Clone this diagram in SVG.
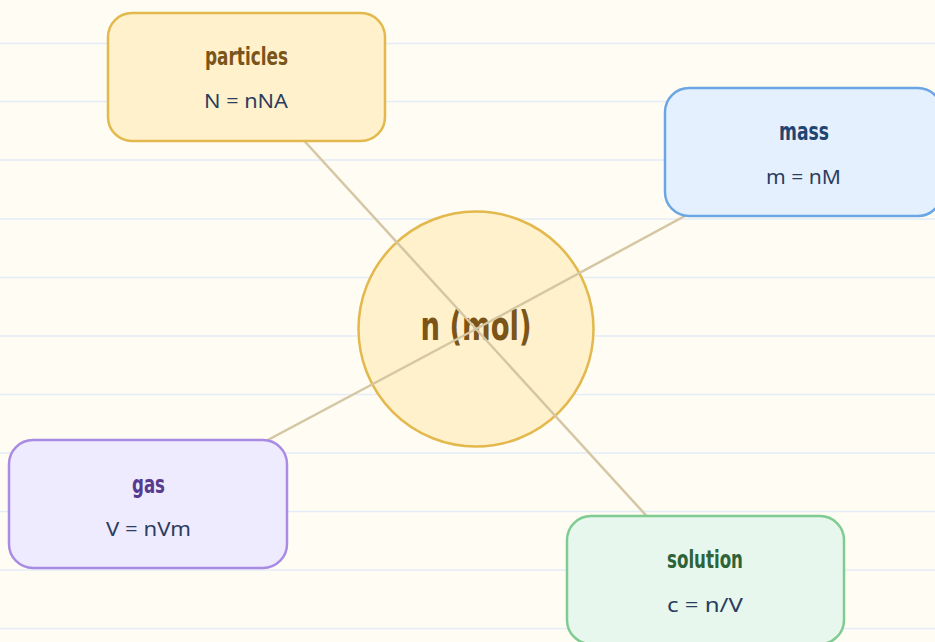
<svg xmlns="http://www.w3.org/2000/svg" width="935" height="642" viewBox="0 0 935 642">
<style>
.bg{fill:#FFFCF3}
.rule{stroke:#E4EDF7;stroke-width:1.5}
.edge{stroke:#D6C7A4;stroke-width:2.5;fill:none}
.box{stroke-width:2.5}
.t{font-family:"DejaVu Sans Condensed","DejaVu Sans",sans-serif;font-weight:bold;font-size:24px;text-anchor:middle;dominant-baseline:central}
.f{font-family:"Noto Sans","Liberation Sans",sans-serif;font-size:19px;fill:#2B3D5E;text-anchor:middle;dominant-baseline:central}
</style>
<rect class="bg" x="0" y="0" width="935" height="642"/>
<g id="rules">
<line class="rule" x1="0" y1="43.5" x2="935" y2="43.5"/>
<line class="rule" x1="0" y1="101.5" x2="935" y2="101.5"/>
<line class="rule" x1="0" y1="160" x2="935" y2="160"/>
<line class="rule" x1="0" y1="219" x2="935" y2="219"/>
<line class="rule" x1="0" y1="277.5" x2="935" y2="277.5"/>
<line class="rule" x1="0" y1="336" x2="935" y2="336"/>
<line class="rule" x1="0" y1="394.5" x2="935" y2="394.5"/>
<line class="rule" x1="0" y1="453" x2="935" y2="453"/>
<line class="rule" x1="0" y1="511.5" x2="935" y2="511.5"/>
<line class="rule" x1="0" y1="570" x2="935" y2="570"/>
<line class="rule" x1="0" y1="628.5" x2="935" y2="628.5"/>
</g>
<g id="center">
<circle cx="476" cy="329" r="117.5" fill="#FFF1CC" stroke="#E3B84C" stroke-width="2.5"/>
<text x="476" y="326" font-family="DejaVu Sans Condensed,DejaVu Sans,sans-serif" font-weight="bold" font-size="40" fill="#7A5418" text-anchor="middle" dominant-baseline="central" textLength="111" lengthAdjust="spacingAndGlyphs">n (mol)</text>
</g>
<g id="connectors">
<line class="edge" x1="476" y1="329" x2="246" y2="77"/>
<line class="edge" x1="476" y1="329" x2="803" y2="152"/>
<line class="edge" x1="476" y1="329" x2="148" y2="504"/>
<line class="edge" x1="476" y1="329" x2="705" y2="580"/>
</g>
<g id="particles">
<rect class="box" x="108" y="13" width="277" height="128" rx="24" fill="#FFF1CC" stroke="#E3B84C"/>
<text class="t" x="246.5" y="57" fill="#7A5418" textLength="83" lengthAdjust="spacingAndGlyphs">particles</text>
<text class="f" x="246" y="101" textLength="84" lengthAdjust="spacingAndGlyphs">N = nNA</text>
</g>
<g id="mass">
<rect class="box" x="665" y="88" width="277" height="128" rx="24" fill="#E5F0FF" stroke="#6AA6E3"/>
<text class="t" x="804" y="132" fill="#1F4570" textLength="50" lengthAdjust="spacingAndGlyphs">mass</text>
<text class="f" x="803.5" y="177" textLength="75" lengthAdjust="spacingAndGlyphs">m = nM</text>
</g>
<g id="gas">
<rect class="box" x="9" y="440" width="278" height="128" rx="24" fill="#EFEBFF" stroke="#A98BE3"/>
<text class="t" x="148.5" y="485" fill="#583A8E" textLength="33" lengthAdjust="spacingAndGlyphs">gas</text>
<text class="f" x="148.5" y="529" textLength="85" lengthAdjust="spacingAndGlyphs">V = nVm</text>
</g>
<g id="solution">
<rect class="box" x="567" y="516" width="277" height="128" rx="24" fill="#E7F7ED" stroke="#7FCB90"/>
<text class="t" x="705" y="560" fill="#2D6338" textLength="76" lengthAdjust="spacingAndGlyphs">solution</text>
<text class="f" x="705" y="605" textLength="76" lengthAdjust="spacingAndGlyphs">c = n/V</text>
</g>
</svg>
